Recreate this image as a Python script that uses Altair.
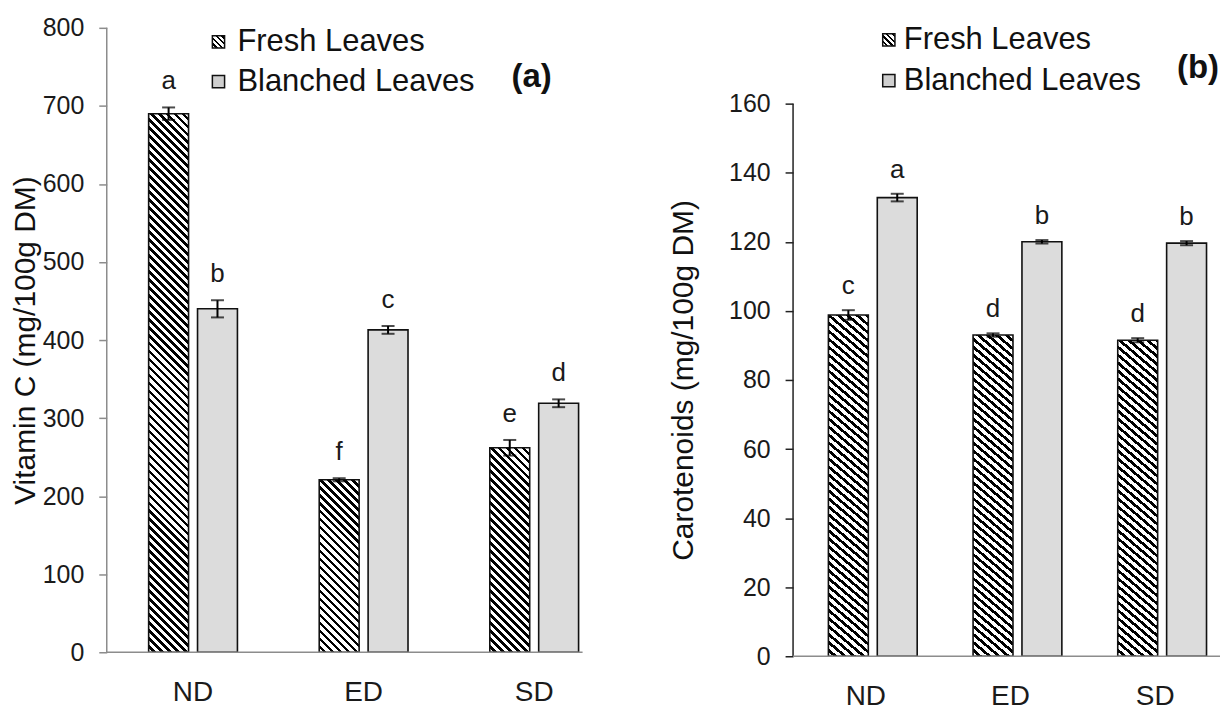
import altair as alt

categories = ["ND", "ED", "SD"]
treatments = ["Fresh Leaves", "Blanched Leaves"]

# Panel (a): Vitamin C (mg/100g DM)
vitc_fresh = [690, 221, 262]
vitc_fresh_err = [8, 2, 10]
vitc_fresh_letters = ["a", "f", "e"]
vitc_blanched = [440, 413, 319]
vitc_blanched_err = [11, 5, 5]
vitc_blanched_letters = ["b", "c", "d"]

# Panel (b): Carotenoids (mg/100g DM)
car_fresh = [98.8, 93.0, 91.5]
car_fresh_err = [1.4, 0.5, 0.6]
car_fresh_letters = ["c", "d", "d"]
car_blanched = [132.8, 120.0, 119.6]
car_blanched_err = [1.1, 0.5, 0.6]
car_blanched_letters = ["a", "b", "b"]

FONT = "Liberation Sans"
BLANCH_FILL = "#dcdcdc"


def hatch(w, h, period=8.0, ink=0.45):
    """Diagonal ("\\") hatching as a bounding-box linear gradient for a w x h px box."""
    r = h / w
    denom = w * (1 + r * r)
    dt = period / denom
    n = int((w + h) / period) + 2
    stops = []
    for k in range(n):
        o = min(k * dt, 1.0)
        a = min(o + (1 - ink) * dt, 1.0)
        b = min(o + dt, 1.0)
        stops += [
            {"offset": round(o, 6), "color": "#ffffff"},
            {"offset": round(a, 6), "color": "#ffffff"},
            {"offset": round(a, 6), "color": "#000000"},
            {"offset": round(b, 6), "color": "#000000"},
        ]
    return {"gradient": "linear", "x1": 0, "y1": 1, "x2": 1, "y2": 1 - r, "stops": stops}


def panel(fresh, fresh_err, fresh_let, blanched, blanched_err, blanched_let,
          ymax, ystep, W, H, top, bar_w, pi, po, align, off_pi, title, title_x,
          axis_color, tag, tag_x, tag_y, leg_x, leg_y, leg_dy, leg_gap,
          anchor_x, anchor_y, letter_dy):
    px_per_unit = (H - top) / ymax
    rows = []
    for i, c in enumerate(categories):
        for trt, vals, errs, lets in (
            (treatments[0], fresh, fresh_err, fresh_let),
            (treatments[1], blanched, blanched_err, blanched_let),
        ):
            v = vals[i]
            e = errs[i]
            fill = hatch(bar_w, v * px_per_unit) if trt == treatments[0] else BLANCH_FILL
            rows.append({"cat": c, "trt": trt, "val": v, "lo": v - e, "hi": v + e,
                         "letter": lets[i], "fill": fill})
    data = alt.Data(values=rows)

    x = alt.X("cat:N", sort=categories,
              scale=alt.Scale(domain=categories, paddingInner=pi, paddingOuter=po, align=align),
              axis=alt.Axis(title=None, labelAngle=0, ticks=False, grid=False, domain=False,
                            labelFont=FONT, labelFontSize=28,
                            labelColor="#1a1a1a", labelPadding=26))
    xo = alt.XOffset("trt:N", sort=treatments,
                     scale=alt.Scale(domain=treatments, paddingInner=off_pi, paddingOuter=0))

    yscale = alt.Scale(domain=[0, ymax], nice=False, zero=True, range=[H, top])

    def yenc(field):
        return alt.Y(field, type="quantitative", scale=yscale,
                     axis=alt.Axis(title=title, values=list(range(0, ymax + 1, ystep)),
                                   grid=False, domain=False, tickSize=8, tickWidth=1.5,
                                   tickColor=axis_color,
                                   labelFont=FONT, labelFontSize=25, labelColor="#1a1a1a",
                                   labelPadding=15, titleFont=FONT, titleFontSize=30,
                                   titleFontWeight="normal", titleColor="#111111",
                                   titleX=title_x, titleY=(H + top) / 2, titleAngle=-90,
                                   titleBaseline="middle", titleAlign="center"))

    base = alt.Chart(data).encode(x=x, xOffset=xo)
    bars = base.mark_bar(stroke="#111111", strokeWidth=1.6).encode(
        y=yenc("val"), fill=alt.Fill("fill:N", scale=None))
    err = base.mark_rule(color="black", strokeWidth=2).encode(y=yenc("lo"), y2="hi:Q")
    cap_hi = base.mark_tick(color="black", thickness=2, size=13).encode(y=yenc("hi"))
    cap_lo = base.mark_tick(color="black", thickness=2, size=13).encode(y=yenc("lo"))
    letters = base.mark_text(font=FONT, fontSize=26, color="#1a1a1a", baseline="alphabetic",
                             dy=letter_dy).encode(y=yenc("hi"), text="letter:N")
    # y-axis line spanning only the value range
    yline = alt.Chart(alt.Data(values=[{"lo": 0, "hi": ymax}])).mark_rule(
        color=axis_color, strokeWidth=1.5
    ).encode(x=alt.value(0), y=yenc("lo"), y2="hi:Q")
    # x-axis line at zero
    xline = alt.Chart(alt.Data(values=[{"lo": 0}])).mark_rule(
        color="#8c8c8c", strokeWidth=1.5
    ).encode(x=alt.value(0), x2=alt.value(W), y=yenc("lo"))

    layers = [bars, err, cap_hi, cap_lo, letters, yline, xline]

    # legend
    for j, t in enumerate(treatments):
        ly = leg_y + j * leg_dy
        sym_fill = hatch(13, 13, period=6.0, ink=0.4) if j == 0 else "#cfcfcf"
        layers.append(
            alt.Chart(alt.Data(values=[{"label": t}])).mark_square(
                size=150, fill=sym_fill, stroke="#111111", strokeWidth=1.5, opacity=1
            ).encode(x=alt.value(leg_x), y=alt.value(ly))
        )
        layers.append(
            alt.Chart(alt.Data(values=[{"label": t}])).mark_text(
                font=FONT, fontSize=31, align="left", baseline="middle", color="#111111"
            ).encode(x=alt.value(leg_x + leg_gap), y=alt.value(ly), text="label:N")
        )
    layers.append(
        alt.Chart(alt.Data(values=[{"label": tag}])).mark_text(
            font=FONT, fontSize=33, fontWeight="bold", align="center", baseline="middle",
            color="#111111"
        ).encode(x=alt.value(tag_x), y=alt.value(tag_y), text="label:N")
    )
    # invisible anchor that fixes the panel's outer bounds
    layers.append(
        alt.Chart(alt.Data(values=[{"label": ""}])).mark_point(opacity=0, size=1).encode(
            x=alt.value(anchor_x), y=alt.value(anchor_y))
    )
    return alt.layer(*layers).properties(
        width=W, height=H, view=alt.ViewBackground(stroke=None, strokeOpacity=0)
    )


left = panel(vitc_fresh, vitc_fresh_err, vitc_fresh_letters,
             vitc_blanched, vitc_blanched_err, vitc_blanched_letters,
             ymax=800, ystep=100, W=477, H=626, top=0, bar_w=40,
             pi=0.4795, po=0.1345, align=0.913, off_pi=9 / 49,
             title="Vitamin C (mg/100g DM)", title_x=-81, axis_color="#8c8c8c",
             tag="(a)", tag_x=426, tag_y=49, leg_x=112, leg_y=14, leg_dy=40, leg_gap=19,
             anchor_x=-98, anchor_y=-18, letter_dy=-18)

right = panel(car_fresh, car_fresh_err, car_fresh_letters,
              car_blanched, car_blanched_err, car_blanched_letters,
              ymax=160, ystep=20, W=428, H=630, top=76, bar_w=34,
              pi=0.4828, po=0.217, align=0.563, off_pi=7 / 41,
              title="Carotenoids (mg/100g DM)", title_x=-110, axis_color="#222222",
              tag="(b)", tag_x=406, tag_y=40, leg_x=96, leg_y=12, leg_dy=41, leg_gap=15,
              anchor_x=-130, anchor_y=-18, letter_dy=-16)

chart = alt.hconcat(left, right, spacing=79).properties(padding=0).configure_view(
    stroke=None, strokeOpacity=0
).configure_axis(grid=False, domain=False).configure(background="white")

chart.save("out.html", embed_options={"renderer": "svg", "actions": False})
